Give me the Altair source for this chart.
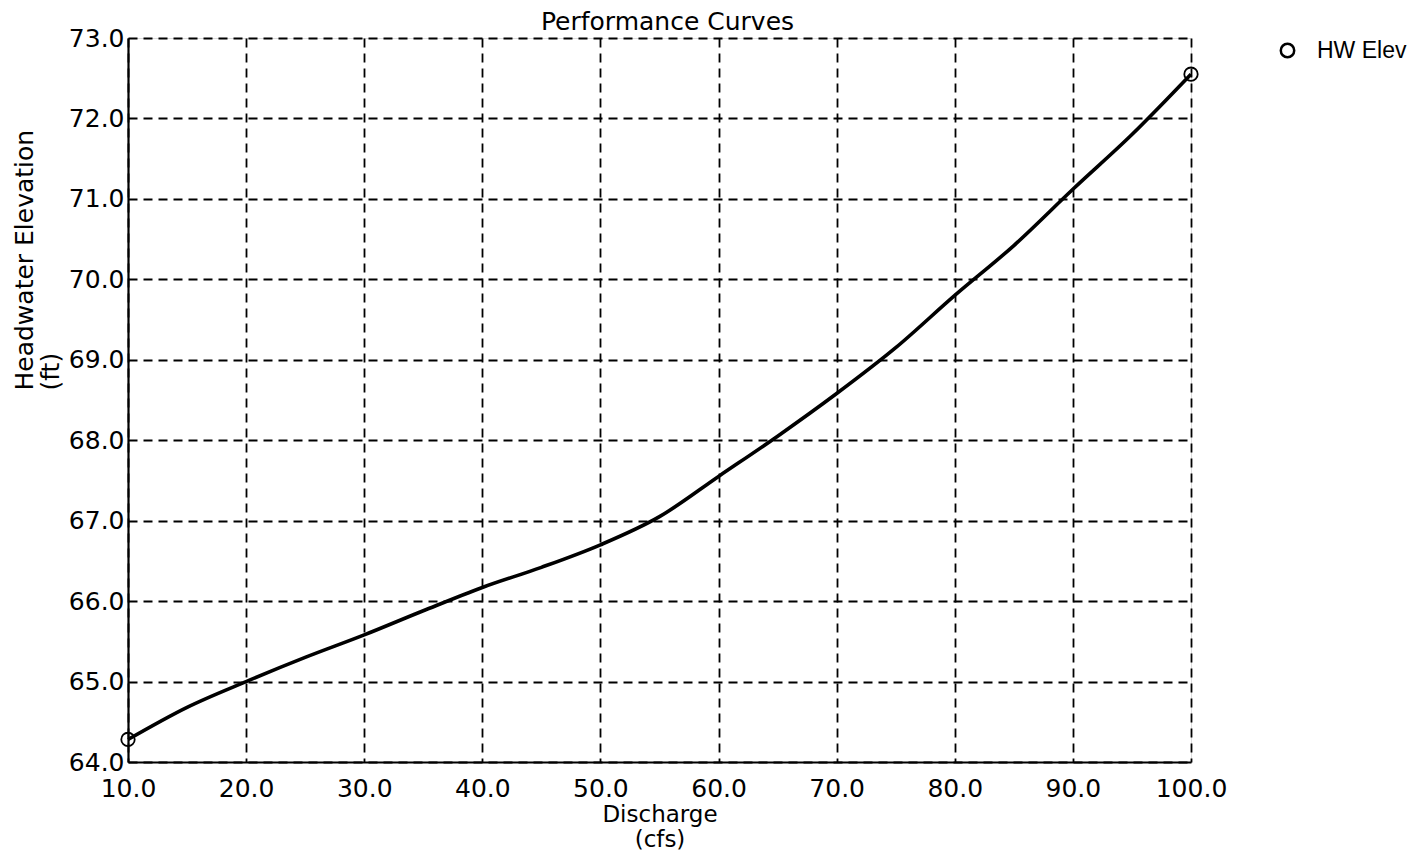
import altair as alt
import pandas as pd

discharge = [10, 15, 20, 25, 30, 35, 40, 45, 50, 55, 60, 65, 70, 75, 80, 85, 90, 95, 100]
hw_elev = [64.28, 64.68, 65.0, 65.3, 65.58, 65.88, 66.17, 66.42, 66.7, 67.05,
           67.55, 68.05, 68.58, 69.15, 69.8, 70.42, 71.12, 71.8, 72.55]
series = "HW Elev"
marker_at = [10, 100]
x_ticks = [10, 20, 30, 40, 50, 60, 70, 80, 90, 100]
y_ticks = [64, 65, 66, 67, 68, 69, 70, 71, 72, 73]

df = pd.DataFrame({"discharge": discharge, "elev": hw_elev, "series": series})

FONT = "DejaVu Sans"

x = alt.X("discharge:Q",
          scale=alt.Scale(domain=[10, 100], nice=False, zero=False),
          axis=alt.Axis(values=x_ticks, format=".1f", title=["Discharge", "(cfs)"],
                        labelFont=FONT, labelFontSize=25, labelColor="black",
                        labelPadding=14, titleFont=FONT, titleFontSize=23,
                        titleFontWeight="normal", titleColor="black",
                        titleLineHeight=25, titleBaseline="top", titleY=41,
                        grid=True, gridColor="black", gridDash=[9, 6], gridWidth=1.8,
                        gridOpacity=1, domainColor="black", domainWidth=2.2,
                        ticks=False, labelFlush=False))
y = alt.Y("elev:Q",
          scale=alt.Scale(domain=[64, 73], nice=False, zero=False),
          axis=alt.Axis(values=y_ticks, format=".1f",
                        title=["Headwater Elevation", "(ft)"],
                        labelFont=FONT, labelFontSize=25, labelColor="black",
                        labelPadding=4, titleFont=FONT, titleFontSize=25,
                        titleFontWeight="normal", titleColor="black",
                        titleAngle=270, titleAlign="left", titleBaseline="alphabetic",
                        titleX=-96, titleY=352, titleLineHeight=26,
                        grid=True, gridColor="black", gridDash=[9, 6], gridWidth=1.8,
                        gridOpacity=1, domainColor="black", domainWidth=2.2,
                        ticks=False, labelFlush=False))

line = alt.Chart(df).mark_line(color="black", strokeWidth=3.6, interpolate="monotone").encode(
    x=x, y=y
)

points = alt.Chart(df).transform_filter(
    alt.FieldOneOfPredicate(field="discharge", oneOf=marker_at)
).mark_point(filled=False, color="black", strokeWidth=1.8, size=180, opacity=1).encode(
    x=x, y=y,
    shape=alt.Shape("series:N", scale=alt.Scale(range=["circle"]),
                    legend=alt.Legend(title=None, orient="none", legendX=1148, legendY=1,
                                      labelFont="Liberation Sans", labelFontSize=23,
                                      labelColor="black", symbolStrokeColor="black",
                                      symbolFillColor="transparent", symbolSize=180,
                                      symbolStrokeWidth=2.5, labelOffset=18, padding=0,
                                      symbolOpacity=1)),
)

chart = alt.layer(line, points).properties(
    width=1063, height=724,
    title=alt.TitleParams("Performance Curves", font=FONT, fontSize=25,
                          fontWeight="normal", color="black", anchor="middle",
                          offset=0, dx=8, dy=9),
    autosize=alt.AutoSizeParams(type="none"),
    padding={"left": 120, "top": 30, "right": 216, "bottom": 94},
).configure_view(stroke=None).configure(background="white")

chart.save("out.html", embed_options={"renderer": "svg", "actions": False})
